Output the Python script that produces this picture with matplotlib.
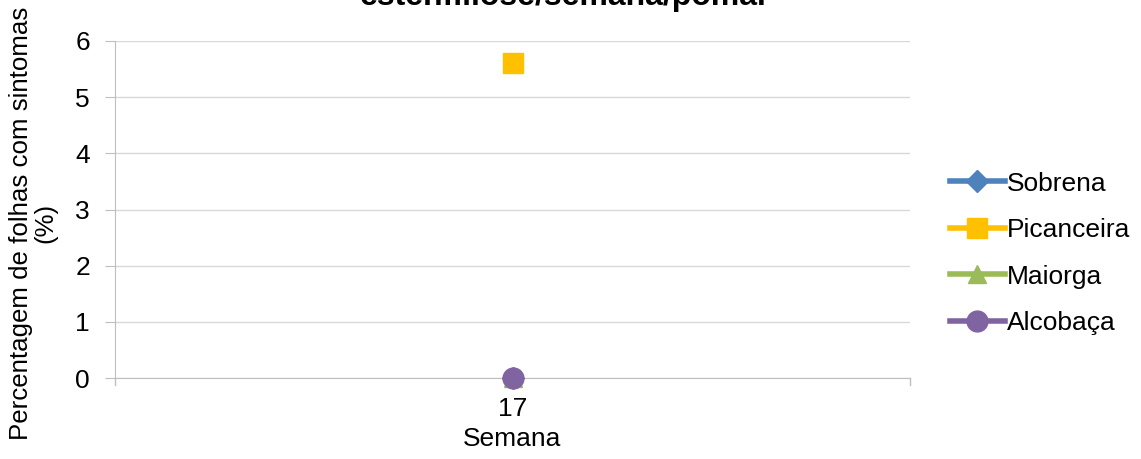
import matplotlib
matplotlib.use("Agg")
import matplotlib.pyplot as plt

plt.rcParams['font.family'] = ['Liberation Sans', 'DejaVu Sans']

semanas = ["17"]
pomares = ["Sobrena", "Picanceira", "Maiorga", "Alcobaça"]
valores = {
    "Sobrena": [0.0],
    "Picanceira": [5.6],
    "Maiorga": [0.0],
    "Alcobaça": [0.0],
}
cores = {"Sobrena": "#4F81BD", "Picanceira": "#FFC000", "Maiorga": "#9BBB59", "Alcobaça": "#8064A2"}
marcadores = {"Sobrena": "D", "Picanceira": "s", "Maiorga": "^", "Alcobaça": "o"}
tamanhos = {"Sobrena": 11, "Picanceira": 14, "Maiorga": 13, "Alcobaça": 15}

fs = 19

fig = plt.figure(figsize=(11.41, 4.59), dpi=100)
ax = fig.add_axes([115 / 1141, 1 - 378 / 459, (910 - 115) / 1141, (378 - 41) / 459])

x = list(range(1, len(semanas) + 1))
for p in pomares:
    ax.plot(x, valores[p], color=cores[p], marker=marcadores[p], markersize=tamanhos[p],
            linewidth=4, label=p, markeredgecolor=cores[p], clip_on=False, zorder=3)

ax.set_xlim(0.5, len(semanas) + 0.5)
ax.set_ylim(0, 6)
ax.set_yticks(range(0, 7))
ax.set_xticks(x)
ax.set_xticklabels(semanas)
ax.yaxis.grid(True, color="#D9D9D9", linewidth=1)
ax.set_axisbelow(True)
for s in ["top", "right"]:
    ax.spines[s].set_visible(False)
for s in ["left", "bottom"]:
    ax.spines[s].set_color("#BFBFBF")
ax.tick_params(axis="y", length=7, color="#BFBFBF", labelsize=fs, pad=11)
ax.tick_params(axis="x", length=0, labelsize=fs, pad=14)
# marcas nos limites da categoria
for xb in [0.5, len(semanas) + 0.5]:
    ax.plot([xb, xb], [0, -0.13], color="#BFBFBF", linewidth=1, clip_on=False)

ax.set_xlabel("Semana", fontsize=fs, labelpad=4)
ax.set_ylabel("Percentagem de folhas com sintomas\n(%)", fontsize=18.6, linespacing=1.0)
ax.yaxis.set_label_coords(-0.073, 0.46)

fig.text(565 / 1141, 1 - 5 / 459, "estenfiliose/semana/pomar", ha="center", va="baseline",
         fontsize=23, fontweight="bold")

ax.legend(loc="center left", bbox_to_anchor=(1.05, 0.37), frameon=False, fontsize=fs,
          handlelength=2.1, handletextpad=0.05, labelspacing=0.85, borderpad=0,
          borderaxespad=0)

fig.savefig("out.png", dpi=100)
